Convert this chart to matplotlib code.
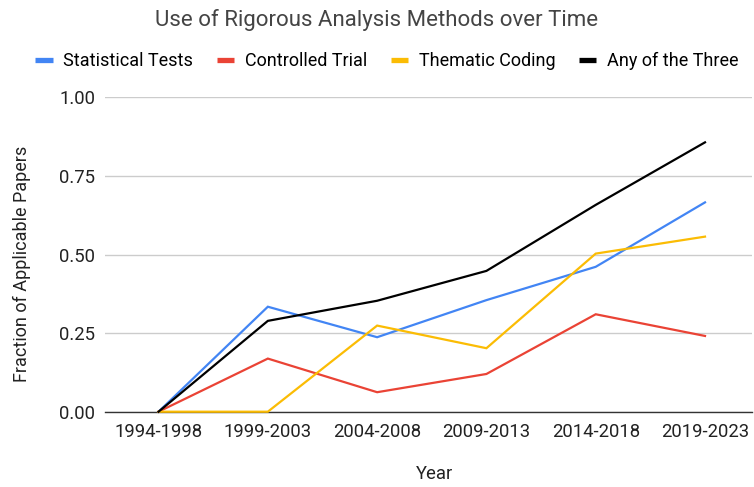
import matplotlib.pyplot as plt
from matplotlib.lines import Line2D

plt.rcParams['font.family'] = ['Roboto', 'DejaVu Sans']

# data
periods = ['1994-1998', '1999-2003', '2004-2008', '2009-2013', '2014-2018', '2019-2023']
statistical = [0.0, 0.334, 0.237, 0.355, 0.461, 0.666]
controlled = [0.0, 0.169, 0.062, 0.120, 0.310, 0.241]
thematic = [0.0, 0.0, 0.274, 0.202, 0.503, 0.557]
any_three = [0.0, 0.289, 0.353, 0.448, 0.658, 0.857]

series = [
    ('Statistical Tests', statistical, '#4285F4'),
    ('Controlled Trial', controlled, '#EA4335'),
    ('Thematic Coding', thematic, '#FBBC04'),
    ('Any of the Three', any_three, '#000000'),
]

fig = plt.figure(figsize=(7.54, 4.87), dpi=100)
ax = fig.add_axes([105 / 754, 1 - 411.7 / 487, 647 / 754, 314.3 / 487])

x = list(range(len(periods)))
for name, vals, col in series:
    ax.plot(x, vals, color=col, lw=1.6, solid_joinstyle='miter', clip_on=False, zorder=3)

ax.set_xlim(-0.49, 5.43)
ax.set_ylim(0, 1)
ax.set_yticks([0, 0.25, 0.5, 0.75, 1.0])
ax.set_yticklabels(['0.00', '0.25', '0.50', '0.75', '1.00'])
ax.set_xticks(x)
ax.set_xticklabels(periods)
ax.grid(axis='y', color='#cccccc', lw=1)
ax.set_axisbelow(True)
for s in ['top', 'right', 'left']:
    ax.spines[s].set_visible(False)
ax.spines['bottom'].set_color('#333333')
ax.spines['bottom'].set_linewidth(1)
ax.tick_params(length=0, labelsize=13.3, colors='#222222', pad=8)
ax.tick_params(axis='y', pad=7)

ax.set_xlabel('Year', fontsize=13.3, color='#222222', va='center')
ax.xaxis.set_label_coords(0.51, -0.198)
ax.set_ylabel('Fraction of Applicable Papers', fontsize=13, color='#222222', va='center')
ax.yaxis.set_label_coords(-0.128, 0.471)

fig.text(0.5, 0.959, 'Use of Rigorous Analysis Methods over Time', ha='center', va='center',
         fontsize=16, color='#444444')

handles = [Line2D([0], [0], color=c, lw=3.8, solid_capstyle='butt') for _, _, c in series]
fig.legend(handles, [n for n, _, _ in series], loc='center', bbox_to_anchor=(0.513, 0.875),
           ncol=4, frameon=False, fontsize=13, handlelength=0.95, handletextpad=0.6,
           columnspacing=1.3)

fig.savefig('out.png', dpi=100)
